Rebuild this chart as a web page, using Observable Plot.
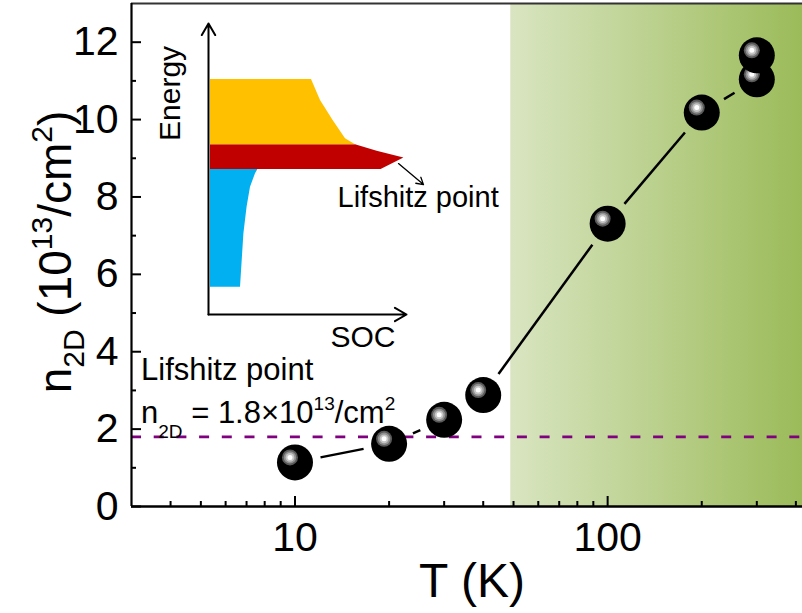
<!DOCTYPE html>
<html><head><meta charset="utf-8">
<script src="https://cdn.jsdelivr.net/npm/d3@7"></script>
<script src="https://cdn.jsdelivr.net/npm/@observablehq/plot@0.6"></script>
<style>
body{margin:0;background:white;overflow:hidden}
#wrap{position:relative;width:802px;height:613px}
#wrap svg{position:absolute;left:0;top:0}
</style></head><body><div id="wrap"></div>
<script>
// ---- main data ----
const temperatures = [10, 20, 30, 40, 100, 200, 300];
const densities = [1.14, 1.62, 2.24, 2.88, 7.31, 10.18, 11.04];
const extraTemperatures = [300];
const extraDensities = [11.66];
const lifshitzDensity = [1.8];
const shadedRange = [49, 420];
const xDomain = [3, 420];
const yDomain = [0, 13];
const xMajorTicks = [10, 100];
const xMinorTicks = [4, 5, 6, 7, 8, 9, 20, 30, 40, 50, 60, 70, 80, 90, 200, 300, 400];
const yMajorTicks = [0, 2, 4, 6, 8, 10, 12];
const yMinorTicks = [1, 3, 5, 7, 9, 11];

// ---- inset schematic (arbitrary SOC / Energy units) ----
const yellowEnergy = [5.66, 5.86, 6.47, 7.13, 7.83];
const yellowSOC = [7.35, 6.85, 6.23, 5.6, 5.15];
const redEnergy = [4.83, 5.22, 5.44, 5.66];
const redSOC = [8.63, 9.77, 8.43, 7.35];
const blueEnergy = [0.91, 2.69, 3.58, 4.24, 4.69, 4.83];
const blueSOC = [1.6, 1.77, 1.93, 2.1, 2.35, 2.47];
const insetAxes = [{x1: 0, y1: 0, x2: 0, y2: 9.7}, {x1: 0, y1: 0, x2: 9.9, y2: 0}];
const insetPointer = [{x1: 9.5, y1: 5.03, x2: 10.75, y2: 4.33}];

const FONT = "'Liberation Sans', Arial, sans-serif";
const W = 802, H = 613, mL = 131, mR = 0, mT = 3, mB = 107;

const xs = Plot.scale({x: {type: "log", domain: xDomain, range: [mL, W - mR]}});
const ys = Plot.scale({y: {type: "linear", domain: yDomain, range: [H - mB, mT]}});

const pts = temperatures.map((t, i) => ({T: t, n: densities[i]}));
const extra = extraTemperatures.map((t, i) => ({T: t, n: extraDensities[i]}));

// line segments with gaps around markers
const gap = 26;
const segs = [];
for (let i = 0; i < pts.length - 1; i++) {
  const ax = xs.apply(pts[i].T), ay = ys.apply(pts[i].n);
  const bx = xs.apply(pts[i + 1].T), by = ys.apply(pts[i + 1].n);
  const dx = bx - ax, dy = by - ay, L = Math.hypot(dx, dy);
  if (L > 2 * gap) {
    const ux = dx / L, uy = dy / L;
    segs.push({
      x1: xs.invert(ax + ux * gap), y1: ys.invert(ay + uy * gap),
      x2: xs.invert(bx - ux * gap), y2: ys.invert(by - uy * gap)
    });
  }
}

function sphere(data) {
  const o = {x: "T", y: "n"};
  return [
    Plot.dot(data, {...o, r: 18, fill: "black"}),
    Plot.dot(data, {...o, r: 8, fill: "#5a5a5a", dx: -5, dy: -5}),
    Plot.dot(data, {...o, r: 6.2, fill: "#919191", dx: -5, dy: -5}),
    Plot.dot(data, {...o, r: 4.4, fill: "#c6c6c6", dx: -5, dy: -5}),
    Plot.dot(data, {...o, r: 2.5, fill: "white", dx: -5, dy: -5})
  ];
}

const main = Plot.plot({
  width: W, height: H, marginLeft: mL, marginRight: mR, marginTop: mT, marginBottom: mB,
  style: {fontFamily: FONT, color: "black", background: "white"},
  x: {type: "log", domain: xDomain},
  y: {type: "linear", domain: yDomain},
  marks: [
    Plot.rect([shadedRange], {x1: d => d[0], x2: d => d[1], y1: yDomain[0], y2: yDomain[1], fill: "url(#shade)"}),
    Plot.ruleY(lifshitzDensity, {stroke: "#800080", strokeWidth: 2.6, strokeDasharray: "10,12.7"}),
    Plot.link(segs, {x1: "x1", y1: "y1", x2: "x2", y2: "y2", stroke: "black", strokeWidth: 2.5}),
    ...sphere(pts),
    ...sphere(extra),
    Plot.ruleY([yDomain[1]], {stroke: "#333", strokeWidth: 2}),
    Plot.ruleY([yDomain[0]], {stroke: "black", strokeWidth: 2.6}),
    Plot.ruleX([xDomain[0]], {stroke: "black", strokeWidth: 2.2}),
    Plot.axisX(xMajorTicks, {tickSize: -10, fill: "none", strokeWidth: 2, label: null}),
    Plot.axisX(xMinorTicks, {tickSize: -5, fill: "none", strokeWidth: 2, label: null}),
    Plot.axisX(xMajorTicks, {tickSize: 0, tickPadding: 15, fontSize: 41, tickFormat: d => String(d), label: null}),
    Plot.axisY(yMajorTicks, {tickSize: -10, fill: "none", strokeWidth: 2, label: null}),
    Plot.axisY(yMinorTicks, {tickSize: -5, fill: "none", strokeWidth: 2, label: null}),
    Plot.axisY(yMajorTicks, {tickSize: 0, tickPadding: 13, fontSize: 41, tickFormat: d => String(d), label: null})
  ]
});

const svg = d3.select(main);
svg.append("defs").html('<linearGradient id="shade" x1="0" x2="1" y1="0" y2="0"><stop offset="0" stop-color="#d9e5c1"/><stop offset="1" stop-color="#9bbb59"/></linearGradient>');

// y axis title
const yl = svg.append("text").attr("transform", "translate(71,252) rotate(-90)")
  .attr("text-anchor", "middle").attr("font-size", 46).attr("fill", "black").attr("font-family", FONT);
yl.append("tspan").text("n");
yl.append("tspan").attr("font-size", 30).attr("dy", 13).text("2D");
yl.append("tspan").attr("dy", -13).text(" (10");
yl.append("tspan").attr("font-size", 30).attr("dy", -19).text("13");
yl.append("tspan").attr("dy", 19).text("/cm");
yl.append("tspan").attr("font-size", 30).attr("dy", -19).text("2");
yl.append("tspan").attr("dy", 19).text(")");

// x axis title
svg.append("text").attr("x", 472).attr("y", 597).attr("text-anchor", "middle")
  .attr("font-size", 48).attr("fill", "black").attr("font-family", FONT).text("T (K)");

// annotation
const axX = xs.apply(xDomain[0]) + 10;
svg.append("text").attr("x", axX).attr("y", ys.apply(3.25)).attr("font-size", 31)
  .attr("text-anchor", "start").attr("fill", "black").attr("font-family", FONT).text("Lifshitz point");
const f = svg.append("text").attr("x", axX).attr("y", ys.apply(2.14)).attr("font-size", 31)
  .attr("text-anchor", "start").attr("fill", "black").attr("font-family", FONT);
f.append("tspan").text("n");
f.append("tspan").attr("font-size", 19).attr("dy", 15).text("2D");
f.append("tspan").attr("dy", -15).text(" = 1.8\u00d710");
f.append("tspan").attr("font-size", 19).attr("dy", -13).text("13");
f.append("tspan").attr("dy", 13).text("/cm");
f.append("tspan").attr("font-size", 19).attr("dy", -13).text("2");

// ---- inset ----
const toRows = (E, S) => E.map((e, i) => ({E: e, S: S[i]}));
const inset = Plot.plot({
  width: W, height: H, margin: 0,
  style: {fontFamily: FONT, background: "transparent", color: "black"},
  x: {domain: [0, 10], range: [208, 408], axis: null},
  y: {domain: [0, 10], range: [314, 14], axis: null},
  marks: [
    Plot.areaX(toRows(blueEnergy, blueSOC), {y: "E", x1: 0.1, x2: "S", fill: "#00b0f0"}),
    Plot.areaX(toRows(redEnergy, redSOC), {y: "E", x1: 0.1, x2: "S", fill: "#c00000"}),
    Plot.areaX(toRows(yellowEnergy, yellowSOC), {y: "E", x1: 0.1, x2: "S", fill: "#ffc000"}),
    Plot.arrow(insetAxes, {x1: "x1", y1: "y1", x2: "x2", y2: "y2", stroke: "black", strokeWidth: 2, headLength: 10}),
    Plot.arrow(insetPointer, {x1: "x1", y1: "y1", x2: "x2", y2: "y2", stroke: "black", strokeWidth: 1.3, headLength: 9}),
    Plot.text(["Energy"], {x: -1.45, y: 7.37, text: d => d, rotate: -90, lineAnchor: "bottom", fontSize: 30}),
    Plot.text(["SOC"], {x: 6.1, y: -1.08, text: d => d, textAnchor: "start", lineAnchor: "bottom", fontSize: 30}),
    Plot.text(["Lifshitz point"], {x: 6.45, y: 3.57, text: d => d, textAnchor: "start", lineAnchor: "bottom", fontSize: 29})
  ]
});

const wrap = document.getElementById("wrap");
wrap.appendChild(main);
wrap.appendChild(inset);
</script></body></html>
